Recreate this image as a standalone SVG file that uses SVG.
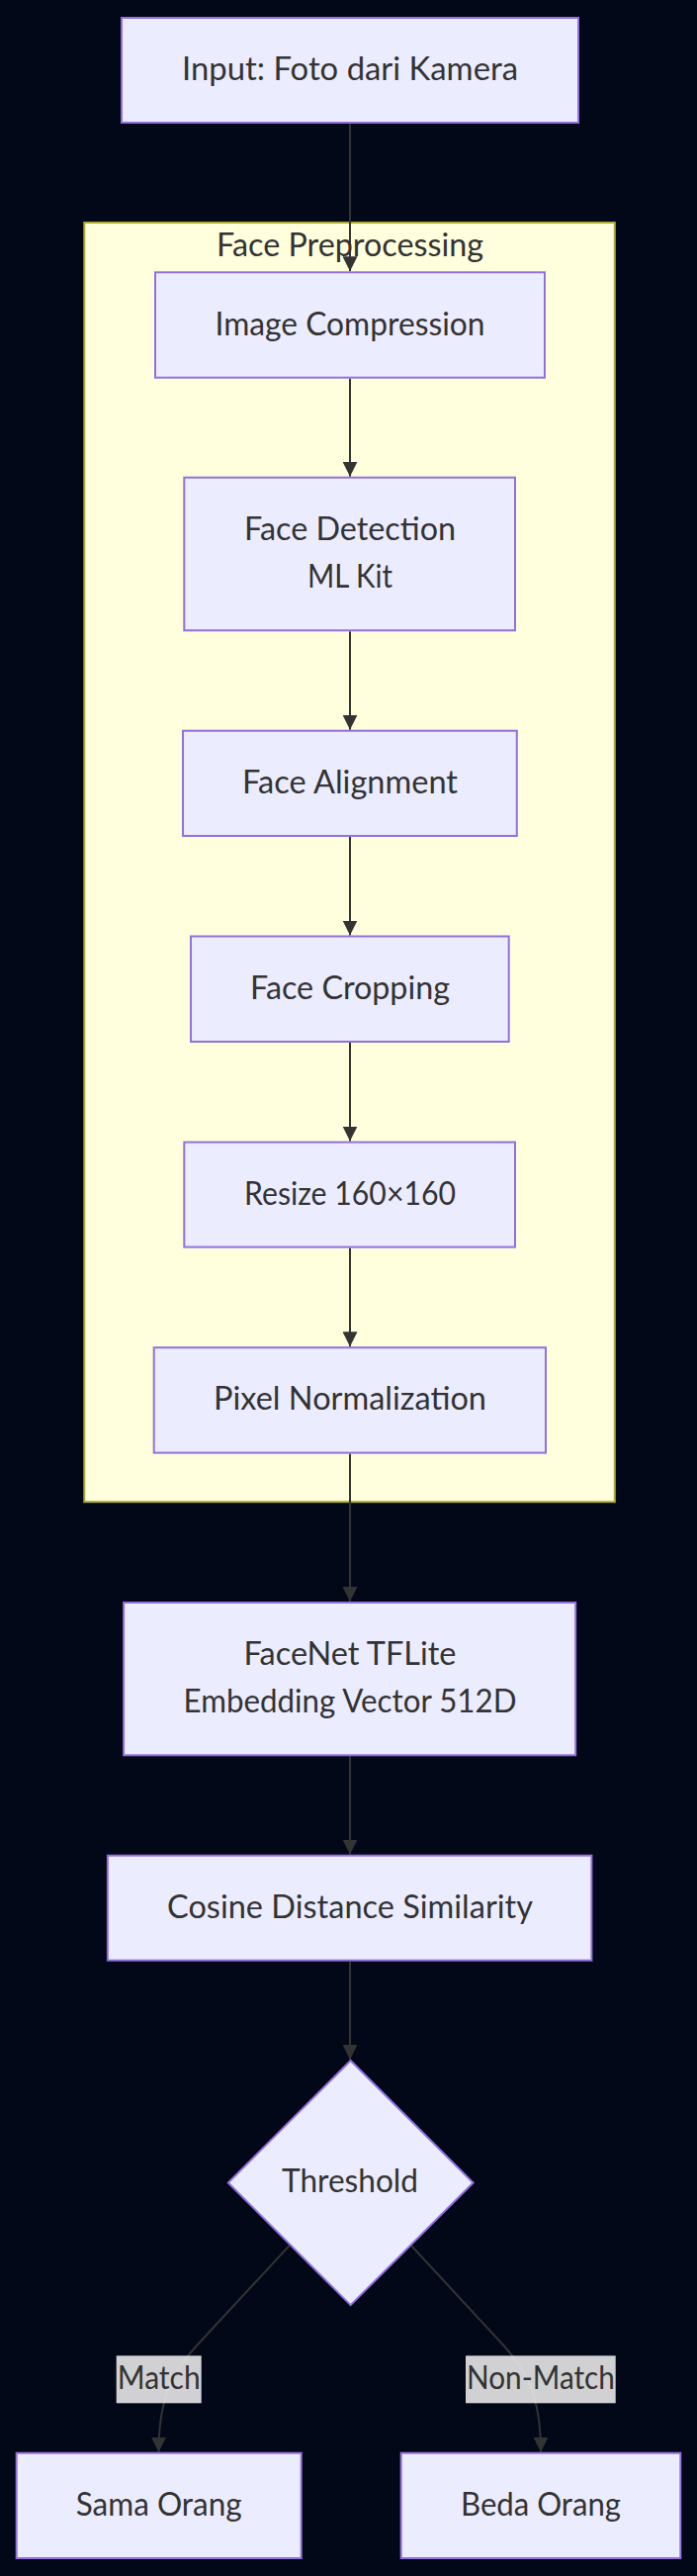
<svg xmlns="http://www.w3.org/2000/svg" width="705" height="2604" viewBox="0 0 705 2604">
<style>
.node rect, .node polygon { fill: #ECECFF; stroke: #9370DB; stroke-width: 2; }
.cluster rect { fill: #ffffde; stroke: #aaaa33; stroke-width: 2; }
text { font-family: "Lato", "DejaVu Sans", sans-serif; font-size: 32px; fill: #333333; text-anchor: middle; }
.edge { fill: none; stroke: #333333; stroke-width: 2; }
.lbl rect { fill: #e8e8e8; fill-opacity: 0.9; }
</style>
<defs>
<marker id="arrow" viewBox="0 0 10 10" refX="10" refY="5" markerUnits="userSpaceOnUse" markerWidth="15" markerHeight="15" orient="auto">
<path d="M0,0 L10,5 L0,10 z" fill="#333333"/>
</marker>
</defs>
<rect x="0" y="0" width="705" height="2604" fill="#020817"/>
<g id="cluster-face-preprocessing" class="cluster">
<rect x="85.3" y="225" width="536.5" height="1293.2"/>
<text x="354" y="259.3" textLength="270" lengthAdjust="spacingAndGlyphs">Face Preprocessing</text>
</g>
<g id="connectors">
<path class="edge" d="M354,125.3 L354,274.3" marker-end="url(#arrow)"/>
<path class="edge" d="M354,382.7 L354,481.7" marker-end="url(#arrow)"/>
<path class="edge" d="M354,638.3 L354,737.7" marker-end="url(#arrow)"/>
<path class="edge" d="M354,846 L354,945.5" marker-end="url(#arrow)"/>
<path class="edge" d="M354,1054 L354,1153.6" marker-end="url(#arrow)"/>
<path class="edge" d="M354,1261.6 L354,1361.2" marker-end="url(#arrow)"/>
<path class="edge" d="M354,1469.6 L354,1619" marker-end="url(#arrow)"/>
<path class="edge" d="M354,1775.3 L354,1874.7" marker-end="url(#arrow)"/>
<path class="edge" d="M354,1982.7 L354,2082" marker-end="url(#arrow)"/>
<path class="edge" d="M292.7,2270 L200,2370 C176.8,2395 160.5,2420 160.5,2478.7" marker-end="url(#arrow)"/>
<path class="edge" d="M416,2270 L508.5,2370 C531.5,2395 547,2420 547,2478.7" marker-end="url(#arrow)"/>
<g id="label-match" class="lbl">
<rect x="117.7" y="2381.3" width="86" height="48"/>
<text x="160.7" y="2415.3" textLength="84" lengthAdjust="spacingAndGlyphs">Match</text>
</g>
<g id="label-nonmatch" class="lbl">
<rect x="471" y="2381.3" width="151.7" height="48"/>
<text x="546.9" y="2415.3" textLength="150" lengthAdjust="spacingAndGlyphs">Non-Match</text>
</g>
</g>
<g id="input" class="node">
<rect x="123" y="18" width="462" height="106"/>
<text x="354" y="81" textLength="340" lengthAdjust="spacingAndGlyphs">Input: Foto dari Kamera</text>
</g>
<g id="image-compression" class="node">
<rect x="157" y="275.3" width="394" height="106.4"/>
<text x="354" y="338.5" textLength="273" lengthAdjust="spacingAndGlyphs">Image Compression</text>
</g>
<g id="face-detection" class="node">
<rect x="186.3" y="482.7" width="334.7" height="154.6"/>
<text x="354" y="545.7" textLength="214" lengthAdjust="spacingAndGlyphs">Face Detection</text>
<text x="354" y="593.7" textLength="86" lengthAdjust="spacingAndGlyphs">ML Kit</text>
</g>
<g id="face-alignment" class="node">
<rect x="185" y="738.7" width="337.8" height="106.3"/>
<text x="354" y="801.9" textLength="218" lengthAdjust="spacingAndGlyphs">Face Alignment</text>
</g>
<g id="face-cropping" class="node">
<rect x="193" y="946.5" width="321.7" height="106.5"/>
<text x="354" y="1009.8" textLength="202" lengthAdjust="spacingAndGlyphs">Face Cropping</text>
</g>
<g id="resize" class="node">
<rect x="186.3" y="1154.6" width="334.7" height="106"/>
<text x="354" y="1217.6" textLength="214" lengthAdjust="spacingAndGlyphs">Resize 160×160</text>
</g>
<g id="pixel-normalization" class="node">
<rect x="155.7" y="1362.2" width="396.3" height="106.4"/>
<text x="354" y="1425.4" textLength="276" lengthAdjust="spacingAndGlyphs">Pixel Normalization</text>
</g>
<g id="facenet" class="node">
<rect x="125.1" y="1620" width="457.1" height="154.3"/>
<text x="354" y="1682.5" textLength="215" lengthAdjust="spacingAndGlyphs">FaceNet TFLite</text>
<text x="354" y="1730.7" textLength="337" lengthAdjust="spacingAndGlyphs">Embedding Vector 512D</text>
</g>
<g id="cosine" class="node">
<rect x="108.9" y="1875.7" width="489.5" height="106"/>
<text x="354" y="1938.7" textLength="370" lengthAdjust="spacingAndGlyphs">Cosine Distance Similarity</text>
</g>
<g id="threshold" class="node">
<polygon points="354.6,2083 478.6,2206.5 354.6,2330.2 230.8,2206.5"/>
<text x="354" y="2216" textLength="138" lengthAdjust="spacingAndGlyphs">Threshold</text>
</g>
<g id="sama-orang" class="node">
<rect x="16.7" y="2479.7" width="288" height="106.3"/>
<text x="160.7" y="2542.6" textLength="168" lengthAdjust="spacingAndGlyphs">Sama Orang</text>
</g>
<g id="beda-orang" class="node">
<rect x="405.7" y="2479.7" width="282.6" height="106.3"/>
<text x="547" y="2542.6" textLength="162" lengthAdjust="spacingAndGlyphs">Beda Orang</text>
</g>
</svg>
